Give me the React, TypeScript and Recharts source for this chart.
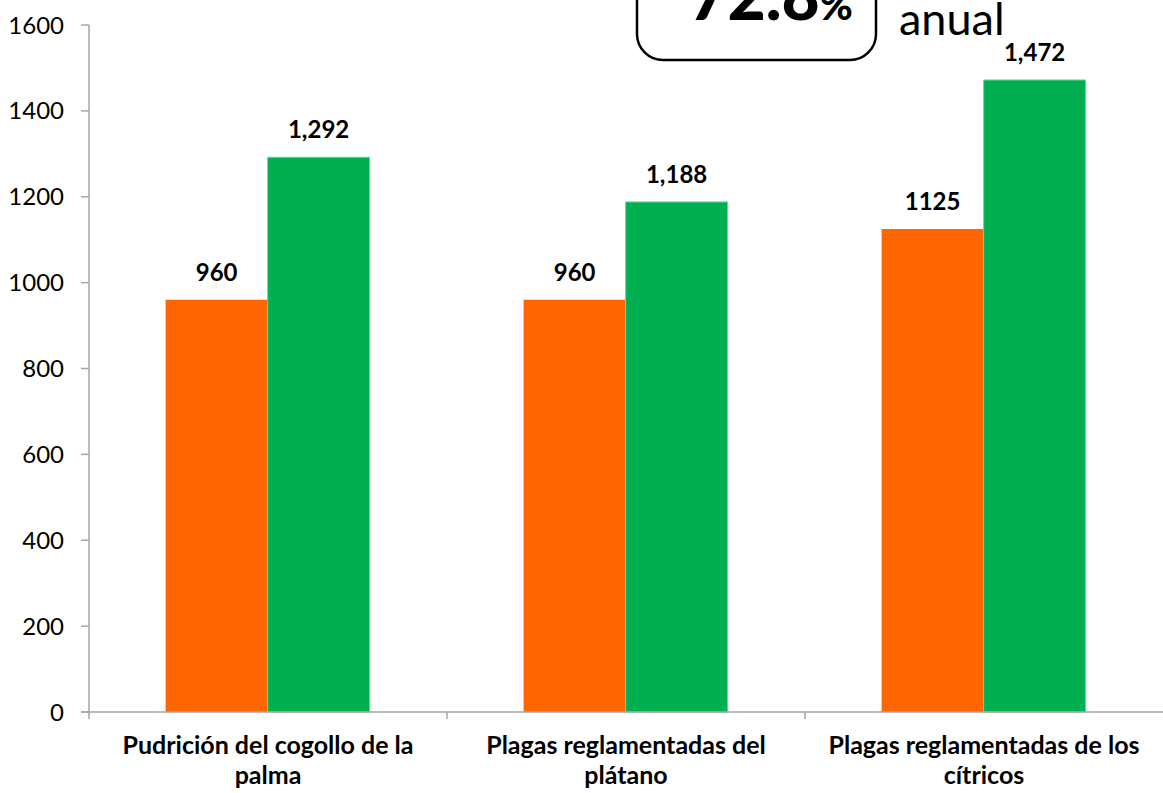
import { BarChart, Bar, XAxis, YAxis, LabelList } from "recharts";

const categories = [
  "Pudrición del cogollo de la palma",
  "Plagas reglamentadas del plátano",
  "Plagas reglamentadas de los cítricos",
];
const categoryLines = [
  ["Pudrición del cogollo de la", "palma"],
  ["Plagas reglamentadas del", "plátano"],
  ["Plagas reglamentadas de los", "cítricos"],
];
const orangeValues = [960, 960, 1125];
const greenValues = [1292, 1188, 1472];
const orangeLabels = ["960", "960", "1125"];
const greenLabels = ["1,292", "1,188", "1,472"];
const yTicks = [0, 200, 400, 600, 800, 1000, 1200, 1400, 1600];

const data = categories.map((name, i) => ({
  name,
  orange: orangeValues[i],
  green: greenValues[i],
  orangeLabel: orangeLabels[i],
  greenLabel: greenLabels[i],
}));

const FONT = "Lato, 'Open Sans', sans-serif";
const AXIS = "#a6a6a6";

function CategoryTick(props: any) {
  const { x, y, payload, index } = props;
  const half = payload.offset ?? 179;
  const lines = categoryLines[index] ?? [payload.value];
  return (
    <g>
      {index === 0 && (
        <line x1={x - half - 8} y1={y} x2={x - half} y2={y} stroke={AXIS} strokeWidth={1.5} />
      )}
      <line x1={x - half} y1={y} x2={x - half} y2={y + 7} stroke={AXIS} strokeWidth={1.5} />
      <text
        x={x}
        y={y}
        textAnchor="middle"
        fontFamily={FONT}
        fontWeight={700}
        fontSize={25}
        fill="#000"
      >
        <tspan x={x} dy={42}>{lines[0]}</tspan>
        <tspan x={x} dy={30}>{lines[1]}</tspan>
      </text>
    </g>
  );
}

const labelStyle = { fill: "#000", fontSize: 24, fontWeight: 700, fontFamily: FONT };

export default function App() {
  return (
    <div style={{ position: "absolute", left: 0, top: 0, width: 1163, height: 793, background: "#fff" }}>
      <BarChart
        width={1163}
        height={793}
        data={data}
        margin={{ top: 25, right: 0, bottom: 0, left: 0 }}
        barCategoryGap="21.4%"
        barGap={0}
      >
        <XAxis
          dataKey="name"
          axisLine={{ stroke: AXIS, strokeWidth: 1.5 }}
          tickLine={false}
          tickSize={0}
          tickMargin={0}
          height={81}
          interval={0}
          tick={<CategoryTick />}
        />
        <YAxis
          domain={[0, 1600]}
          ticks={yTicks}
          width={89}
          axisLine={{ stroke: AXIS, strokeWidth: 1.5 }}
          tickLine={{ stroke: AXIS, strokeWidth: 1.5 }}
          tickSize={8}
          tickMargin={17}
          tick={{ fill: "#000", fontSize: 24, fontFamily: FONT }}
        />
        <Bar dataKey="orange" fill="#FF6600" isAnimationActive={false}>
          <LabelList dataKey="orangeLabel" position="top" offset={19} style={labelStyle} />
        </Bar>
        <Bar dataKey="green" fill="#00B050" stroke="#6fd39e" strokeWidth={1} isAnimationActive={false}>
          <LabelList dataKey="greenLabel" position="top" offset={19} style={labelStyle} />
        </Bar>
      </BarChart>
      <svg
        width={1163}
        height={793}
        style={{ position: "absolute", left: 0, top: 0, pointerEvents: "none" }}
      >
        <rect x={637} y={-40} width={239} height={100} rx={26} ry={26} fill="#fff" stroke="#000" strokeWidth={2.5} />
        <text x={771} y={20} textAnchor="middle" fontFamily={FONT} fontWeight={900} fill="#000">
          <tspan fontSize={66}>72.8</tspan>
          <tspan fontSize={40}>%</tspan>
        </text>
        <text x={899} y={35} fontFamily={FONT} fontSize={45} fill="#000">
          anual
        </text>
      </svg>
    </div>
  );
}
